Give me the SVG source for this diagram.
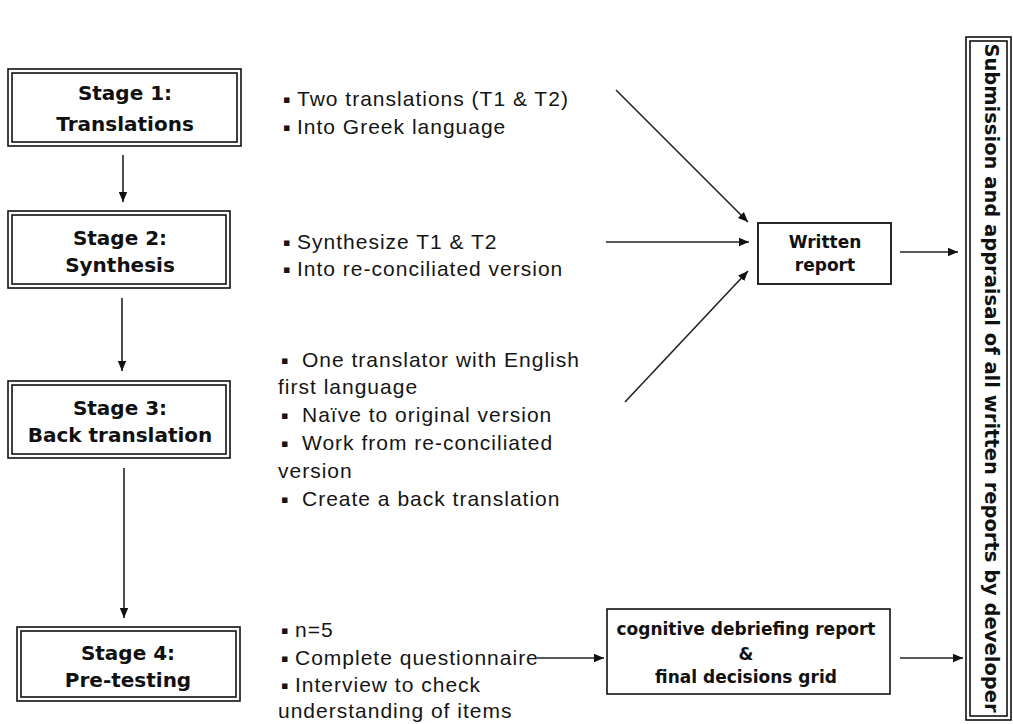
<svg xmlns="http://www.w3.org/2000/svg" width="1013" height="724" viewBox="0 0 1013 724">
<defs>
<marker id="ah" markerUnits="userSpaceOnUse" markerWidth="12" markerHeight="10" refX="10" refY="5" orient="auto">
<path d="M0,0.8 L10,5 L0,9.2 Z" fill="#111"/>
</marker>
<style>
.box{fill:#fff;stroke:#111;stroke-width:1.6}
.sbox{fill:#fff;stroke:#111;stroke-width:1.8}
.st{font-family:"DejaVu Sans",Verdana,sans-serif;font-weight:bold;font-size:20px;fill:#111;text-anchor:middle}
.bt{font-family:"DejaVu Sans",Verdana,sans-serif;font-weight:bold;font-size:17px;fill:#111;text-anchor:middle}
.tx{font-family:"Liberation Sans",Arial,sans-serif;font-size:21px;letter-spacing:1px;fill:#151515}
.bu{font-family:"DejaVu Sans",sans-serif;font-size:11px;fill:#151515}
.cn{stroke:#222;stroke-width:1.6;fill:none;marker-end:url(#ah)}
</style>
</defs>
<rect width="1013" height="724" fill="#fff"/>

<g id="stage1">
<rect class="box" x="8" y="69" width="233" height="77"/>
<rect class="box" x="12" y="73" width="225" height="69"/>
<text class="st" x="125" y="100">Stage 1:</text>
<text class="st" x="125" y="131">Translations</text>
</g>
<g id="stage2">
<rect class="box" x="8" y="211" width="222" height="77"/>
<rect class="box" x="12" y="215" width="214" height="69"/>
<text class="st" x="120" y="245">Stage 2:</text>
<text class="st" x="120" y="272">Synthesis</text>
</g>
<g id="stage3">
<rect class="box" x="8" y="381" width="222" height="77"/>
<rect class="box" x="12" y="385" width="214" height="69"/>
<text class="st" x="120" y="415">Stage 3:</text>
<text class="st" x="120" y="442">Back translation</text>
</g>
<g id="stage4">
<rect class="box" x="17" y="627" width="223" height="74"/>
<rect class="box" x="21" y="631" width="215" height="66"/>
<text class="st" x="128" y="660">Stage 4:</text>
<text class="st" x="128" y="687">Pre-testing</text>
</g>

<g id="notes1">
<text class="bu" x="283" y="103">▪</text><text class="tx" x="297" y="106">Two translations (T1 &amp; T2)</text>
<text class="bu" x="283" y="131">▪</text><text class="tx" x="297" y="134">Into Greek language</text>
</g>
<g id="notes2">
<text class="bu" x="283" y="246">▪</text><text class="tx" x="297" y="249">Synthesize T1 &amp; T2</text>
<text class="bu" x="283" y="273">▪</text><text class="tx" x="297" y="276">Into re-conciliated version</text>
</g>
<g id="notes3">
<text class="bu" x="281" y="364">▪</text><text class="tx" x="302" y="367">One translator with English</text>
<text class="tx" x="278" y="394">first language</text>
<text class="bu" x="281" y="419">▪</text><text class="tx" x="302" y="422">Naïve to original version</text>
<text class="bu" x="281" y="447">▪</text><text class="tx" x="302" y="450">Work from re-conciliated</text>
<text class="tx" x="278" y="478">version</text>
<text class="bu" x="281" y="503">▪</text><text class="tx" x="302" y="506">Create a back translation</text>
</g>
<g id="notes4">
<text class="bu" x="281" y="634">▪</text><text class="tx" x="295" y="637">n=5</text>
<text class="bu" x="281" y="662">▪</text><text class="tx" x="295" y="665">Complete questionnaire</text>
<text class="bu" x="281" y="689">▪</text><text class="tx" x="295" y="692">Interview to check</text>
<text class="tx" x="278" y="718">understanding of items</text>
</g>

<g id="written-report">
<rect class="sbox" x="758" y="223" width="133" height="61"/>
<text class="bt" x="825" y="248">Written</text>
<text class="bt" x="825" y="271">report</text>
</g>
<g id="cognitive-report">
<rect class="box" x="607" y="609" width="283" height="85"/>
<text class="bt" x="746" y="635">cognitive debriefing report</text>
<text class="bt" x="746" y="660">&amp;</text>
<text class="bt" x="746" y="683">final decisions grid</text>
</g>
<g id="submission">
<rect class="box" x="966" y="37" width="45" height="683"/>
<rect class="box" x="970" y="41" width="37" height="675"/>
<text font-family="DejaVu Sans, Verdana, sans-serif" font-weight="bold" font-size="19.5" fill="#111" text-anchor="middle" transform="translate(985,378) rotate(90)">Submission and appraisal of all written reports by developer</text>
</g>

<g id="connectors">
<line class="cn" x1="123" y1="155" x2="123" y2="202"/>
<line class="cn" x1="122" y1="298" x2="122" y2="371"/>
<line class="cn" x1="124" y1="468" x2="124" y2="618"/>
<line class="cn" x1="616" y1="90" x2="748" y2="222"/>
<line class="cn" x1="606" y1="242" x2="749" y2="242"/>
<line class="cn" x1="625" y1="402" x2="748" y2="271"/>
<line class="cn" x1="900" y1="252" x2="958" y2="252"/>
<line class="cn" x1="537" y1="658" x2="604" y2="658"/>
<line class="cn" x1="900" y1="658" x2="963" y2="658"/>
</g>
</svg>
